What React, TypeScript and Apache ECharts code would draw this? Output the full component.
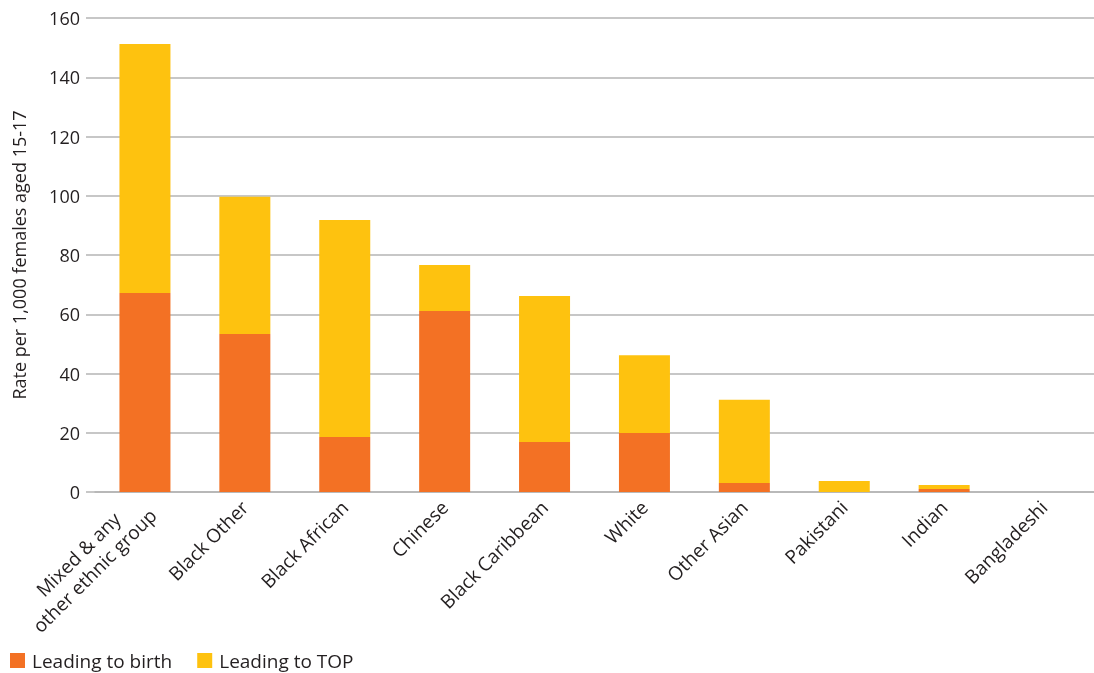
import React, { useEffect, useRef } from "react";
import * as echarts from "echarts";

const categories = [
  "Mixed & any\nother ethnic group",
  "Black Other",
  "Black African",
  "Chinese",
  "Black Caribbean",
  "White",
  "Other Asian",
  "Pakistani",
  "Indian",
  "Bangladeshi",
];
const leadingToBirth = [67.2, 53.3, 18.6, 61.1, 16.9, 19.9, 3.0, 0, 1.0, 0];
const leadingToTop = [84.0, 46.4, 73.2, 15.5, 49.3, 26.3, 28.1, 3.7, 1.4, 0];
const seriesNames = ["Leading to birth", "Leading to TOP"];
const yTicks = { min: 0, max: 160, interval: 20 };

const FONT = "'Open Sans', sans-serif";
const TEXT = "#231f20";
const GRID = "#b4b4b4";

export default function App() {
  const ref = useRef<HTMLDivElement>(null);
  useEffect(() => {
    if (!ref.current) return;
    const chart = echarts.init(ref.current, undefined, { renderer: "svg" });
    chart.setOption({
      animation: false,
      textStyle: { fontFamily: FONT, color: TEXT },
      grid: { left: 95, top: 18, width: 1011, height: 474, containLabel: false },
      legend: {
        left: 5,
        top: 646,
        itemWidth: 15,
        itemHeight: 15,
        itemGap: 25,
        icon: "rect",
        textStyle: { fontFamily: FONT, fontSize: 19, lineHeight: 18, color: TEXT, padding: [0, 0, 0, 2] },
        data: seriesNames,
      },
      xAxis: {
        type: "category",
        data: categories,
        axisTick: { show: false },
        axisLine: { lineStyle: { color: GRID, width: 1.5 } },
        axisLabel: {
          rotate: 45,
          interval: 0,
          margin: 12,
          fontFamily: FONT,
          fontSize: 19,
          color: TEXT,
          formatter: (v: string) =>
            v
              .split("\n")
              .map((s) => "{c|" + s + "}")
              .join("\n"),
          rich: {
            c: { align: "center", fontFamily: FONT, fontSize: 19, color: TEXT, lineHeight: 23 },
          },
        },
      },
      yAxis: {
        type: "value",
        min: yTicks.min,
        max: yTicks.max,
        interval: yTicks.interval,
        name: "Rate per 1,000 females aged 15-17",
        nameLocation: "middle",
        nameGap: 67,
        nameTextStyle: { fontFamily: FONT, fontSize: 18, color: TEXT },
        axisLine: { show: false },
        axisTick: { show: true, length: 9, lineStyle: { color: GRID, width: 1.5 } },
        axisLabel: { margin: 15, fontFamily: FONT, fontSize: 18, color: TEXT },
        splitLine: { lineStyle: { color: GRID, width: 1.5 } },
      },
      series: [
        {
          name: seriesNames[0],
          type: "bar",
          stack: "total",
          data: leadingToBirth,
          barWidth: 51,
          itemStyle: { color: "#f37124" },
        },
        {
          name: seriesNames[1],
          type: "bar",
          stack: "total",
          data: leadingToTop,
          barWidth: 51,
          itemStyle: { color: "#fec20f" },
        },
      ],
    });
    return () => chart.dispose();
  }, []);
  return (
    <div
      ref={ref}
      style={{ position: "fixed", left: 0, top: 0, width: 1094, height: 673, overflow: "hidden" }}
    />
  );
}
